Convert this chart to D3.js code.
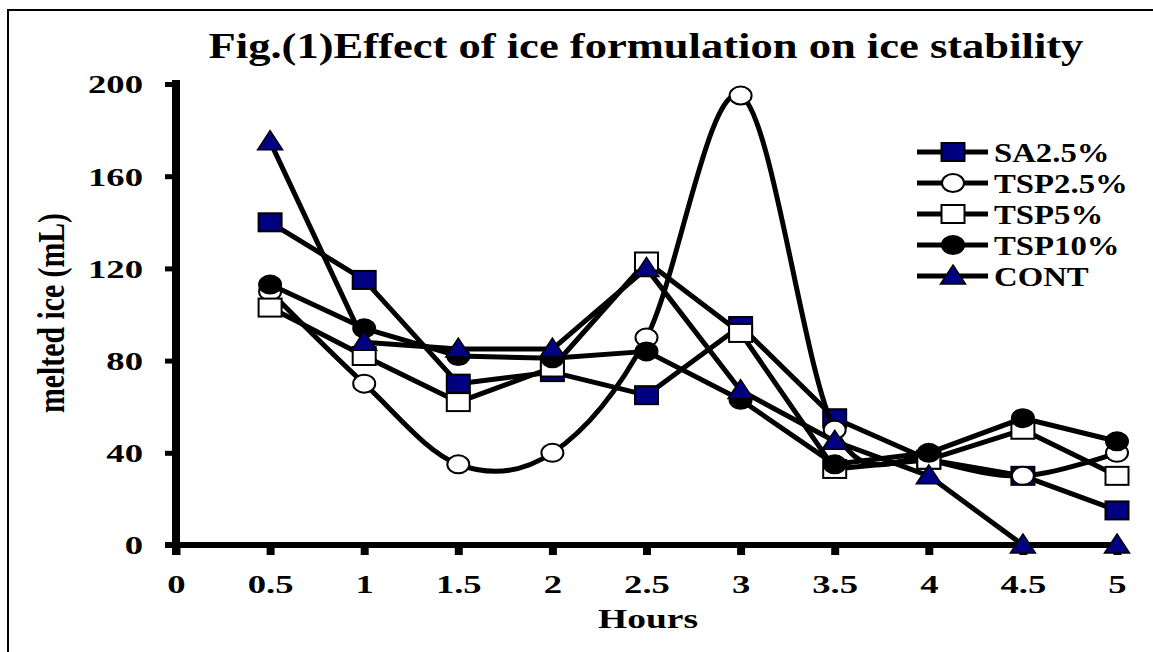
<!DOCTYPE html>
<html>
<head>
<meta charset="utf-8">
<script src="https://cdn.jsdelivr.net/npm/d3@7/dist/d3.min.js"></script>
<style>
  html, body { margin: 0; padding: 0; background: #fff; }
  svg { display: block; }
  text { font-family: "Liberation Serif", "Times New Roman", serif; font-weight: bold; fill: #000; }
</style>
</head>
<body>
<script>
// ---- data ----
const hours = [0.5, 1, 1.5, 2, 2.5, 3, 3.5, 4, 4.5, 5];
const xTicks = [0, 0.5, 1, 1.5, 2, 2.5, 3, 3.5, 4, 4.5, 5];
const xTickLabels = ["0", "0.5", "1", "1.5", "2", "2.5", "3", "3.5", "4", "4.5", "5"];
const yTicks = [0, 40, 80, 120, 160, 200];
const seriesNames = ["SA2.5%", "TSP2.5%", "TSP5%", "TSP10%", "CONT"];
const sa25  = [140, 115, 70, 75, 65, 95, 55, 37, 30, 15];
const tsp25 = [110, 70, 35, 40, 90, 195, 50, 37, 30, 40];
const tsp5  = [103, 82, 62, 77, 123, 92, 33, 37, 50, 30];
const tsp10 = [113, 94, 82, 81, 84, 63, 35, 40, 55, 45];
const cont  = [175, 88, 85, 85, 120, 67, 45, 30, 0, 0];
const titleText = "Fig.(1)Effect of ice formulation on ice stability";
const xTitle = "Hours";
const yTitle = "melted ice (mL)";

// ---- setup ----
const W = 1153, H = 652;
const svg = d3.select("body").append("svg").attr("width", W).attr("height", H);
svg.append("rect").attr("width", W).attr("height", H).attr("fill", "#fff");

// outer frame (extends beyond right/bottom)
svg.append("path").attr("d", `M${W + 5},10 H8 V${H + 5}`).attr("fill", "none")
  .attr("stroke", "#000").attr("stroke-width", 2);

const x = d3.scaleLinear().domain([0, 5]).range([176, 1117]);
const y = d3.scaleLinear().domain([0, 200]).range([545, 84]);

// horizontally stretch text glyphs by factor k, keeping the anchor point in place
function hstretch(sel, k) {
  sel.each(function () {
    const el = d3.select(this);
    const tx = +el.attr("x") || 0;
    el.attr("x", tx / k).attr("transform", `scale(${k},1)`);
  });
}
// place text at (px,py) and stretch it horizontally to the given width
function fitText(parent, str, px, py, size, width, anchor) {
  const t = parent.append("text").attr("x", 0).attr("y", 0)
    .attr("text-anchor", anchor || "middle").style("font-size", size + "px").text(str);
  const k = width / t.node().getComputedTextLength();
  t.attr("transform", `translate(${px},${py}) scale(${k},1)`);
  return t;
}

// title
fitText(svg, titleText, 646, 58, 36, 875);

// axes
const yAxis = svg.append("g").attr("transform", `translate(${x(0)},0)`)
  .call(d3.axisLeft(y).tickValues(yTicks).tickSize(11).tickPadding(22).tickFormat(d3.format("d")));
yAxis.select(".domain").remove();
yAxis.selectAll(".tick line").attr("stroke", "#000").attr("stroke-width", 5);
yAxis.selectAll(".tick text").style("font-size", "26px").attr("font-family", null)
  .attr("dy", "0.34em");
hstretch(yAxis.selectAll(".tick text"), 1.41);

const xAxis = svg.append("g").attr("transform", `translate(0,${y(0)})`)
  .call(d3.axisBottom(x).tickValues(xTicks).tickSize(10).tickPadding(22)
    .tickFormat((d, i) => xTickLabels[i]));
xAxis.select(".domain").remove();
xAxis.selectAll(".tick line").attr("stroke", "#000").attr("stroke-width", 8);
xAxis.selectAll(".tick text").style("font-size", "26px").attr("font-family", null)
  .attr("dy", "0.6em");
hstretch(xAxis.selectAll(".tick text"), 1.41);

// axis lines
svg.append("line").attr("x1", x(0)).attr("x2", x(0)).attr("y1", y(200) - 4).attr("y2", y(0) + 10)
  .attr("stroke", "#000").attr("stroke-width", 8);
svg.append("line").attr("x1", x(0) - 11).attr("x2", x(5) + 4).attr("y1", y(0)).attr("y2", y(0))
  .attr("stroke", "#000").attr("stroke-width", 6);

// axis titles
fitText(svg, xTitle, 648, 628, 28, 100);
{
  const t = svg.append("text").attr("x", 0).attr("y", 0).attr("text-anchor", "middle")
    .style("font-size", "26px").text(yTitle);
  const len = t.node().getComputedTextLength();
  const ky = 200 / len;
  t.attr("transform", `translate(64,313) scale(1.45,${ky}) rotate(-90)`);
}

// markers
const NAVY = "#000080";
function drawMarker(g, type, cx, cy) {
  if (type === "fsq" || type === "osq") {
    g.append("rect").attr("x", cx - 11.5).attr("y", cy - 9).attr("width", 23).attr("height", 18)
      .attr("fill", type === "fsq" ? NAVY : "#fff").attr("stroke", "#000").attr("stroke-width", 2);
  } else if (type === "ocirc" || type === "fcirc") {
    g.append("ellipse").attr("cx", cx).attr("cy", cy).attr("rx", 11).attr("ry", 9)
      .attr("fill", type === "fcirc" ? "#000" : "#fff").attr("stroke", "#000").attr("stroke-width", 2);
  } else if (type === "tri") {
    g.append("path").attr("d", `M${cx},${cy - 11} L${cx + 12.5},${cy + 8} L${cx - 12.5},${cy + 8} Z`)
      .attr("fill", NAVY).attr("stroke", "#000").attr("stroke-width", 1.5);
  }
}

const series = [
  { name: seriesNames[0], values: sa25, marker: "fsq", smooth: false },
  { name: seriesNames[1], values: tsp25, marker: "ocirc", smooth: true },
  { name: seriesNames[2], values: tsp5, marker: "osq", smooth: false },
  { name: seriesNames[3], values: tsp10, marker: "fcirc", smooth: false },
  { name: seriesNames[4], values: cont, marker: "tri", smooth: false }
];

series.forEach(s => {
  const g = svg.append("g");
  const pts = hours.map((h, i) => [h, s.values[i]]);
  const line = d3.line().x(d => x(d[0])).y(d => y(d[1]))
    .curve(s.smooth ? d3.curveCardinal.tension(0) : d3.curveLinear);
  g.append("path").attr("d", line(pts)).attr("fill", "none").attr("stroke", "#000")
    .attr("stroke-width", 5).attr("stroke-linejoin", "round");
  pts.forEach(p => drawMarker(g, s.marker, x(p[0]), y(p[1])));
});

// legend
const lg = svg.append("g");
series.forEach((s, i) => {
  const cy = 152 + i * 31;
  lg.append("line").attr("x1", 917).attr("x2", 988).attr("y1", cy).attr("y2", cy)
    .attr("stroke", "#000").attr("stroke-width", 5);
  drawMarker(lg, s.marker, 953, cy);
  const t = lg.append("text").attr("x", 994).attr("y", cy + 10).style("font-size", "28px").text(s.name);
  hstretch(t, 1.17);
});
</script>
</body>
</html>
